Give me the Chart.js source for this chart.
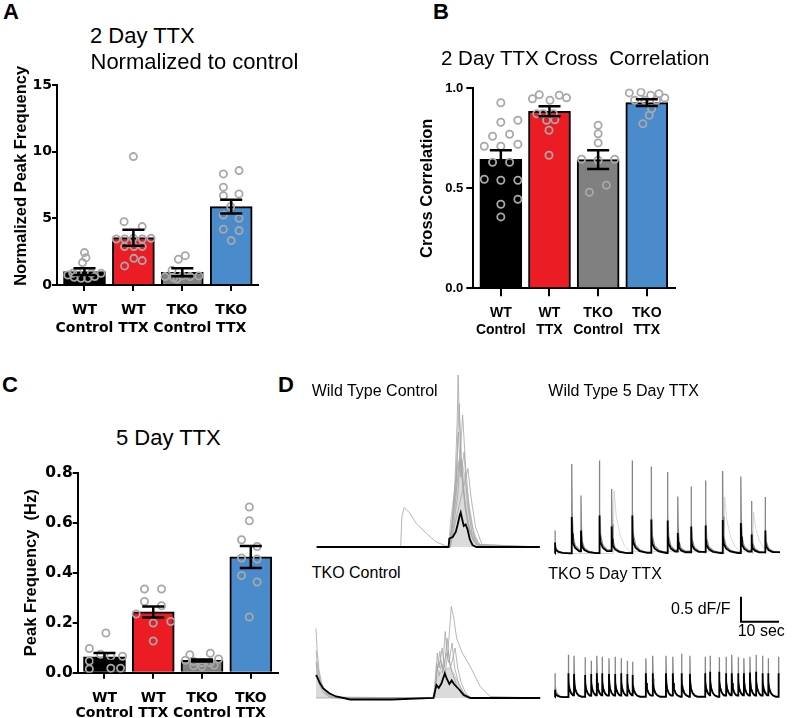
<!DOCTYPE html>
<html><head><meta charset="utf-8">
<script src="https://cdn.jsdelivr.net/npm/chart.js@4.4.1/dist/chart.umd.min.js"></script>
<style>
html,body{margin:0;padding:0;background:#fff;}
#fig{position:relative;width:792px;height:718px;overflow:hidden;font-family:"Liberation Sans",Arial,sans-serif;color:#000;}
#fig canvas{position:absolute;}
.t{position:absolute;white-space:pre;line-height:1;}
.L{font-weight:bold;font-size:22px;}
</style></head><body><div id="fig">
<canvas id="cA" width="275" height="290" style="left:0;top:60px"></canvas>
<canvas id="cB" width="280" height="290" style="left:410px;top:60px"></canvas>
<canvas id="cC" width="292" height="268" style="left:0;top:450px"></canvas>
<canvas id="dWC" width="236" height="186" style="left:310px;top:368px"></canvas>
<canvas id="dWT" width="238" height="120" style="left:548px;top:440px"></canvas>
<canvas id="dKC" width="236" height="116" style="left:310px;top:590px"></canvas>
<canvas id="dKT" width="238" height="116" style="left:548px;top:588px"></canvas>
<div class="t L" style="left:3px;top:1.4px">A</div>
<div class="t L" style="left:433px;top:1.4px">B</div>
<div class="t L" style="left:2px;top:374.4px">C</div>
<div class="t L" style="left:278px;top:374.4px">D</div>
<div class="t" style="left:90px;top:24.9px;font-size:22px">2 Day TTX</div>
<div class="t" style="left:90.5px;top:51.4px;font-size:22px">Normalized to control</div>
<div class="t" style="left:441px;top:47.6px;font-size:20.5px">2 Day TTX Cross  Correlation</div>
<div class="t" style="left:116px;top:427.4px;font-size:22px">5 Day TTX</div>
<div class="t" style="left:311.7px;top:382.5px;font-size:16px">Wild Type Control</div>
<div class="t" style="left:548.3px;top:383.2px;font-size:16px">Wild Type 5 Day TTX</div>
<div class="t" style="left:311.7px;top:564.5px;font-size:16px">TKO Control</div>
<div class="t" style="left:548.3px;top:565.5px;font-size:16px">TKO 5 Day TTX</div>
<div class="t" style="left:671px;top:600.5px;font-size:16px">0.5 dF/F</div>
<div class="t" style="left:737.7px;top:623.2px;font-size:16px">10 sec</div>
</div>
<script>
// ---------------- DATA ----------------
const categories = [['WT','Control'],['WT','TTX'],['TKO','Control'],['TKO','TTX']];
const barColors = ['#000000','#ec1c24','#808080','#4a8ccb'];

// Panel A: 2 Day TTX, normalized peak frequency
const aMeans = [1.0, 3.55, 0.95, 5.88];
const aSem = [0.25, 0.6, 0.3, 0.52];
const aWtCtl = [2.43, 2.05, 1.68, 0.93, 0.88, 0.88, 0.88, 0.75, 0.63, 0.58, 0.5, 0.5];
const aWtTtx = [9.63, 4.75, 4.38, 3.45, 3.45, 3.5, 3.45, 3.5, 2.88, 2.88, 2.88, 2.0, 1.83, 1.43];
const aTkoCtl = [2.2, 1.93, 1.1, 0.63, 0.55, 0.68, 0.63, 0.68, 0.45];
const aTkoTtx = [8.58, 8.33, 7.33, 6.83, 6.7, 5.88, 5.25, 5.0, 4.18, 4.08, 3.33];
const aYTicks = [0, 5, 10, 15];

// Panel B: 2 Day TTX cross correlation
const bMeans = [0.645, 0.885, 0.643, 0.928];
const bSem = [0.045, 0.025, 0.047, 0.017];
const bWtCtl = [0.928, 0.84, 0.83, 0.77, 0.76, 0.72, 0.71, 0.71, 0.63, 0.63, 0.545, 0.54, 0.54, 0.445, 0.42, 0.357];
const bWtTtx = [0.968, 0.965, 0.953, 0.948, 0.94, 0.873, 0.873, 0.873, 0.843, 0.84, 0.79, 0.665];
const bTkoCtl = [0.815, 0.773, 0.727, 0.645, 0.64, 0.645, 0.515, 0.48];
const bTkoTtx = [0.977, 0.98, 0.965, 0.973, 0.952, 0.94, 0.94, 0.94, 0.898, 0.865, 0.823];
const bYTicks = [0, 0.5, 1.0];

// Panel C: 5 Day TTX peak frequency (Hz)
const cMeans = [0.063, 0.243, 0.049, 0.463];
const cSem = [0.016, 0.022, 0.004, 0.044];
const cWtCtl = [0.159, 0.097, 0.074, 0.066, 0.066, 0.047, 0.015, 0.018, 0.018];
const cWtTtx = [0.335, 0.335, 0.285, 0.268, 0.235, 0.199, 0.205, 0.127];
const cTkoCtl = [0.072, 0.078, 0.05, 0.055, 0.045, 0.04, 0.04, 0.028, 0.03, 0.025];
const cTkoTtx = [0.663, 0.608, 0.532, 0.505, 0.459, 0.455, 0.389, 0.363, 0.223];
const cYTicks = [0, 0.2, 0.4, 0.6, 0.8];

// Panel D traces: [time (s), dF/F]
const wtCtlMean = [[0,0],[34.7,0],[34.9,0.17],[35.8,0.2],[36.6,0.3],[37.1,0.45],[37.6,0.62],[37.9,0.69],[38.3,0.55],[38.7,0.42],[39.2,0.45],[39.7,0.35],[40.3,0.15],[41,0.04],[42,0],[58.7,0]];
const wtCtlCellA = [[0,0],[34.8,0],[35.6,0.4],[36.4,1.3],[37.0,2.6],[37.2,3.44],[37.6,2.4],[38.2,1.5],[39.0,0.8],[40.0,0.35],[41.5,0.1],[43,0],[58.7,0]];
const wtCtlCellB = [[0,0],[34.9,0],[35.8,0.5],[36.8,1.6],[37.5,2.87],[38.1,1.7],[39,0.9],[40.2,0.35],[42,0.05],[58.7,0]];
const wtCtlCellC = [[0,0],[35,0],[36,0.4],[37.2,1.1],[38.4,2.64],[39.2,1.6],[40.2,0.7],[41.5,0.2],[43.5,0],[58.7,0]];
const wtCtlCellD = [[0,0],[35.2,0],[36.5,0.5],[38,1.0],[39.8,1.57],[40.6,1.0],[41.8,0.4],[43.5,0.05],[58.7,0]];
const wtCtlCellE = [[0,0],[22.1,0],[22.4,0.6],[23.0,0.79],[24.5,0.68],[26.2,0.47],[28.9,0.27],[31.5,0.1],[34,0.02],[34.8,0],[35.5,0.3],[36.5,0.9],[37.6,1.8],[38.5,1.2],[39.5,0.6],[41,0.15],[43,0],[58.7,0]];
const wtCtlCellF = [[0,0],[34.9,0],[35.9,0.7],[36.7,1.2],[37.3,2.3],[37.9,1.4],[38.8,1.9],[39.6,0.9],[40.8,0.3],[42.5,0.03],[58.7,0]];
const wtCtlSpread = [[34.7,0],[35.2,0.5],[36.2,1.1],[37.2,1.7],[38.2,1.75],[39.2,1.3],[40.2,0.8],[41.2,0.35],[42.5,0.08],[44,0]];

const tkoCtlMean = [[0,0.46],[0.3,0.42],[1,0.3],[1.9,0.19],[3.6,0.09],[5.3,0.03],[9,-0.03],[20,-0.03],[30.9,0],[31.7,0.26],[32.3,0.2],[33,0.29],[33.9,0.49],[34.5,0.37],[35.1,0.28],[35.7,0.35],[36.3,0.28],[37.8,0.16],[38.9,0.06],[40.6,0],[59,0]];
const tkoCtlCellA = [[0,1.39],[0.3,0.95],[0.8,0.55],[1.5,0.3],[2.5,0.12],[4,0.03],[6,0],[31,0],[31.8,0.5],[32.6,0.93],[33.3,0.5],[34,1.33],[34.6,0.8],[35.6,1.83],[36.2,1.63],[37,1.2],[38.5,0.9],[40.6,0.63],[43.2,0.23],[45.8,0.03],[59,0]];
const tkoCtlCellB = [[0,0.95],[0.5,0.6],[1.2,0.3],[2.5,0.1],[4.5,0],[31.2,0],[32,0.6],[32.8,0.75],[33.5,0.55],[34.2,0.9],[35,0.7],[35.8,1.1],[36.5,0.6],[37.5,0.3],[39,0.08],[41,0],[59,0]];
const tkoCtlCellC = [[0,0.7],[0.4,0.45],[1,0.25],[2,0.1],[3.5,0.02],[31.3,0],[31.9,0.9],[32.4,0.6],[33.2,1.0],[33.8,0.6],[34.5,1.2],[35.1,0.7],[35.9,0.5],[37,0.25],[38.5,0.05],[40,0],[59,0]];
const tkoCtlCellD = [[0,0.0],[31.0,0],[31.7,0.7],[32.4,0.45],[33,0.7],[34,0.5],[34.8,0.95],[35.4,0.6],[36.6,1.0],[37.3,0.6],[38.2,0.3],[39.5,0.08],[41,0],[59,0]];
const tkoCtlSpread = [[0,0.75],[0.6,0.5],[1.5,0.25],[3,0.1],[5,0.02],[7,0],[30.9,0],[31.5,0.35],[32.5,0.5],[33.5,0.55],[34.5,0.6],[35.5,0.6],[36.5,0.45],[37.5,0.3],[38.5,0.12],[40,0.03],[41,0]];

const wtTtxTimes = [0, 4.4, 6.84, 11.67, 14.9, 20.3, 25.3, 29.6, 32.3, 35.8, 39.6, 44.1, 48.9, 51.7, 55.3];
const wtTtxCellPeaks = [0.46, 1.79, 1.16, 1.86, 1.29, 1.86, 1.74, 1.63, 1.14, 1.34, 1.46, 1.65, 1.54, 1.05, 1.13];
const wtTtxMeanPeaks = [0.22, 0.73, 0.46, 0.76, 0.54, 0.76, 0.68, 0.66, 0.41, 0.54, 0.56, 0.67, 0.61, 0.38, 0.46];
const wtTtxLagTimes = [15.3, 44.4, 52.0];
const wtTtxLagPeaks = [1.26, 1.13, 0.83];
const wtTtxCellShape = [[0,1],[0.12,0.45],[0.35,0.2],[0.9,0.09],[2,0.04],[3.5,0.015]];
const wtTtxMeanShape = [[0,1],[0.1,0.55],[0.3,0.3],[0.9,0.15],[2,0.06],[4,0.015]];
const wtTtxLagShape = [[0,0],[0.25,1],[0.8,0.6],[1.8,0.3],[3,0.12],[4.5,0.03]];

const tkoTtxTimes = [0, 3.5, 5.0, 7.9, 9.5, 11.0, 12.4, 14.2, 15.8, 17.4, 19.0, 20.4, 23.9, 25.7, 29.2, 31.0, 33.3, 35.5, 39.5, 40.8, 43.2, 45.0, 46.5, 48.2, 49.7, 51.3, 52.9, 54.6, 56.1, 58.8];
const tkoTtxCellPeaks = [0.48, 0.85, 0.83, 0.8, 0.73, 0.83, 0.81, 0.78, 0.81, 0.78, 0.73, 0.71, 0.78, 0.83, 0.83, 0.81, 0.87, 0.83, 0.81, 0.83, 0.8, 0.81, 0.85, 0.8, 0.78, 0.81, 0.85, 0.83, 0.78, 0.81];
const tkoTtxMeanPeaks = [0.15, 0.48, 0.466, 0.446, 0.466, 0.48, 0.48, 0.466, 0.466, 0.48, 0.466, 0.446, 0.48, 0.48, 0.48, 0.48, 0.48, 0.466, 0.48, 0.513, 0.513, 0.48, 0.48, 0.48, 0.48, 0.493, 0.513, 0.48, 0.48, 0.48];
const tkoTtxCellShape = [[0,1],[0.12,0.45],[0.35,0.22],[0.8,0.1],[1.5,0.03]];
const tkoTtxMeanShape = [[0,1],[0.08,0.6],[0.3,0.35],[0.7,0.18],[1.2,0.08],[2,0.02]];
const scaleBar = [[48.95,2.01],[48.95,1.51],[58.95,1.51]]; // 0.5 dF/F, 10 sec

// ---------------- DRAWING ----------------
const BOLDW = '"DejaVu Sans", sans-serif';
const ARIAL = '"Liberation Sans", Arial, sans-serif';
const PT = '#a8a8a8';

const errBars = {
  id: 'errbars',
  afterDatasetsDraw(chart, args, o) {
    const {ctx, scales: {x, y}} = chart;
    ctx.save();
    ctx.strokeStyle = '#000'; ctx.lineWidth = o.lw; ctx.lineCap = 'butt';
    o.means.forEach((m, i) => {
      const px = x.getPixelForValue(i);
      const t = y.getPixelForValue(m + o.errs[i]);
      const b = y.getPixelForValue(m - o.errs[i]);
      ctx.beginPath();
      ctx.moveTo(px, t); ctx.lineTo(px, b);
      ctx.moveTo(px - o.cap / 2, t); ctx.lineTo(px + o.cap / 2, t);
      ctx.moveTo(px - o.cap / 2, b); ctx.lineTo(px + o.cap / 2, b);
      ctx.stroke();
    });
    ctx.restore();
  }
};

function barPanel(p) {
  const pts = [];
  p.groups.forEach((vals, i) => vals.forEach((v, j) => pts.push({x: i + p.jitter[i][j], y: v})));
  const axisGrid = (tl) => ({display: true, drawOnChartArea: false, drawTicks: true, tickLength: tl, color: '#000', lineWidth: 2, offset: false});
  return new Chart(document.getElementById(p.id), {
    type: 'bar',
    data: {datasets: [
      {type: 'bar', data: p.means.map((m, i) => ({x: i, y: m})), backgroundColor: barColors, borderColor: '#000', borderWidth: 2, barThickness: 42, order: 2, borderSkipped: 'start'},
      {type: 'scatter', data: pts, pointRadius: 3.6, pointBorderWidth: 1.8, borderColor: PT, pointBorderColor: PT, backgroundColor: 'rgba(0,0,0,0)', pointBackgroundColor: 'rgba(0,0,0,0)', order: 1}
    ]},
    plugins: [errBars],
    options: {
      animation: false, responsive: false, devicePixelRatio: 1,
      layout: {padding: p.pad},
      plugins: {legend: {display: false}, tooltip: {enabled: false}, errbars: {means: p.means, errs: p.errs, cap: 22, lw: 2.5}},
      scales: {
        x: {type: 'linear', offset: false, min: p.xmin, max: p.xmax,
          afterBuildTicks: s => { s.ticks = categories.map((c, i) => ({value: i})); },
          afterFit: s => { s.height = p.xh; },
          grid: axisGrid(p.xtl), border: {display: true, color: '#000', width: 2},
          ticks: {autoSkip: false, maxRotation: 0, color: '#000', padding: p.xpad,
            font: {family: p.xfam, size: 14, weight: 'bold', lineHeight: p.xlh},
            callback: v => categories[Math.round(v)]}},
        y: {min: p.yticks[0], max: p.yticks[p.yticks.length - 1],
          afterBuildTicks: s => { s.ticks = p.yticks.map(v => ({value: v})); },
          afterFit: s => { s.width = p.yw; },
          grid: axisGrid(p.ytl), border: {display: true, color: '#000', width: 2},
          ticks: {color: '#000', padding: p.ypad, font: {family: p.yfam, size: p.yfs, weight: 'bold'},
            callback: v => p.fmt(v)},
          title: {display: true, text: p.ytitle, color: '#000', padding: 0,
            font: {family: ARIAL, size: 16.5, weight: 'bold', lineHeight: 1}}}
      }
    }
  });
}

barPanel({id: 'cA', means: aMeans, errs: aSem,
  groups: [aWtCtl, aWtTtx, aTkoCtl, aTkoTtx],
  jitter: [[0,0.03,-0.04,-0.14,-0.24,0.14,0.34,-0.34,0.21,-0.21,-0.07,0.07],
           [0,-0.19,0.18,-0.35,-0.18,0,0.18,0.36,-0.18,0.01,0.18,0.01,0.18,-0.18],
           [0.06,-0.08,-0.21,-0.35,-0.18,0,0.16,0.34,-0.11],
           [0.16,-0.16,-0.16,0.16,-0.16,-0.01,-0.16,0.16,-0.16,0.16,0]],
  pad: {left: 13.5, top: 25, right: 17, bottom: 0}, yw: 43.5, xh: 65,
  xmin: -0.562, xmax: 3.548, xtl: 6, xpad: 10.7, xlh: 18/14, xfam: BOLDW,
  yticks: aYTicks, ytl: 5, ypad: 0, yfam: BOLDW, yfs: 14, fmt: v => String(v),
  ytitle: '    Normalized Peak Frequency'});

barPanel({id: 'cB', means: bMeans, errs: bSem,
  groups: [bWtCtl, bWtTtx, bTkoCtl, bTkoTtx],
  jitter: [[0,0.35,0,0.18,-0.17,0.35,-0.34,0,-0.17,0.18,-0.34,0,0.35,0.35,0,0],
           [-0.21,0.2,0.35,-0.35,0.01,-0.26,-0.13,0.08,0.11,-0.06,-0.01,-0.01],
           [0,0,0,-0.34,0,0.34,0.17,-0.18],
           [-0.36,-0.12,0.08,0.25,0.37,-0.25,-0.04,0.2,0.1,0.05,-0.08]],
  pad: {left: 8.75, top: 28.3, right: 15, bottom: 0}, yw: 54.55, xh: 61.7,
  xmin: -0.566, xmax: 3.58, xtl: 8, xpad: 8.5, xlh: 17/14, xfam: ARIAL,
  yticks: bYTicks, ytl: 7, ypad: 3, yfam: ARIAL, yfs: 13, fmt: v => v.toFixed(1),
  ytitle: 'Cross Correlation'});

barPanel({id: 'cC', means: cMeans, errs: cSem,
  groups: [cWtCtl, cWtTtx, cTkoCtl, cTkoTtx],
  jitter: [[0.03,-0.31,-0.08,0.13,0.37,-0.31,-0.31,0.13,0.33],
           [-0.18,0.17,-0.18,0.17,-0.35,0.0,0.36,0.0],
           [-0.25,0.17,-0.34,0.34,-0.17,0.0,0.17,-0.17,0.25,0.0],
           [-0.03,-0.03,-0.19,0.13,-0.19,0.13,-0.19,0.13,-0.03]],
  pad: {left: 23.45, top: 22.7, right: 13.7, bottom: 0}, yw: 54.25, xh: 45.3,
  xmin: -0.549, xmax: 3.564, xtl: 6, xpad: 12.5, xlh: 15/14, xfam: BOLDW,
  yticks: cYTicks, ytl: 5, ypad: 0, yfam: BOLDW, yfs: 15.5, fmt: v => v.toFixed(1),
  ytitle: 'Peak Frequency  (Hz)'});

// spike train table built from read spike times / amplitudes / decay shape
function train(times, peaks, shape, tEnd) {
  const pts = [[0, 0]];
  let last = 0;
  times.forEach((t0, i) => {
    const tn = i + 1 < times.length ? times[i + 1] : tEnd;
    pts.push([t0, last]);
    for (const [dt, r] of shape) {
      if (t0 + dt >= tn) break;
      last = peaks[i] * r;
      pts.push([t0 + dt, last]);
    }
  });
  pts.push([tEnd, last]);
  return pts;
}

const SEC = 3.8, UNIT = 50; // px per second, px per dF/F
function tracePanel(id, x0, y0, datasets) {
  const c = document.getElementById(id);
  const left = parseFloat(c.style.left), top = parseFloat(c.style.top);
  return new Chart(c, {
    type: 'line',
    data: {datasets},
    options: {
      animation: false, responsive: false, devicePixelRatio: 1,
      layout: {padding: 0},
      plugins: {legend: {display: false}, tooltip: {enabled: false}},
      elements: {point: {radius: 0}, line: {tension: 0}},
      scales: {
        x: {type: 'linear', display: false, min: (left - x0) / SEC, max: (left + c.width - x0) / SEC},
        y: {type: 'linear', display: false, min: (y0 - (top + c.height)) / UNIT, max: (y0 - top) / UNIT}
      }
    }
  });
}
const meanLine = d => ({data: d, borderColor: '#000', borderWidth: 1.8, fill: false});
const cellLine = d => ({data: d, borderColor: 'rgba(165,165,165,0.9)', borderWidth: 0.9, fill: false});
const trainCell = d => ({data: d, borderColor: 'rgba(120,120,120,0.9)', borderWidth: 1.3, fill: false});
const lagCell = d => ({data: d, borderColor: 'rgba(200,200,200,0.9)', borderWidth: 0.8, fill: false});
const spread = d => ({data: d, borderColor: 'rgba(195,195,195,0.9)', borderWidth: 1, backgroundColor: 'rgba(195,195,195,0.6)', fill: 'origin'});

tracePanel('dWC', 316.7, 547, [
  meanLine(wtCtlMean), cellLine(wtCtlCellA), cellLine(wtCtlCellB), cellLine(wtCtlCellC),
  cellLine(wtCtlCellD), cellLine(wtCtlCellE), cellLine(wtCtlCellF), spread(wtCtlSpread)]);
tracePanel('dWT', 555, 553.5, [
  meanLine(train(wtTtxTimes, wtTtxMeanPeaks, wtTtxMeanShape, 59.2)),
  trainCell(train(wtTtxTimes, wtTtxCellPeaks, wtTtxCellShape, 59.2)),
  lagCell(train(wtTtxLagTimes, wtTtxLagPeaks, wtTtxLagShape, 59.2))]);
tracePanel('dKC', 316, 698, [
  meanLine(tkoCtlMean), cellLine(tkoCtlCellA), cellLine(tkoCtlCellB), cellLine(tkoCtlCellC),
  cellLine(tkoCtlCellD), spread(tkoCtlSpread)]);
tracePanel('dKT', 555, 697.3, [
  {data: scaleBar, borderColor: '#000', borderWidth: 2, fill: false},
  meanLine(train(tkoTtxTimes, tkoTtxMeanPeaks, tkoTtxMeanShape, 59.0)),
  trainCell(train(tkoTtxTimes, tkoTtxCellPeaks, tkoTtxCellShape, 59.0))]);
</script>
</body></html>
